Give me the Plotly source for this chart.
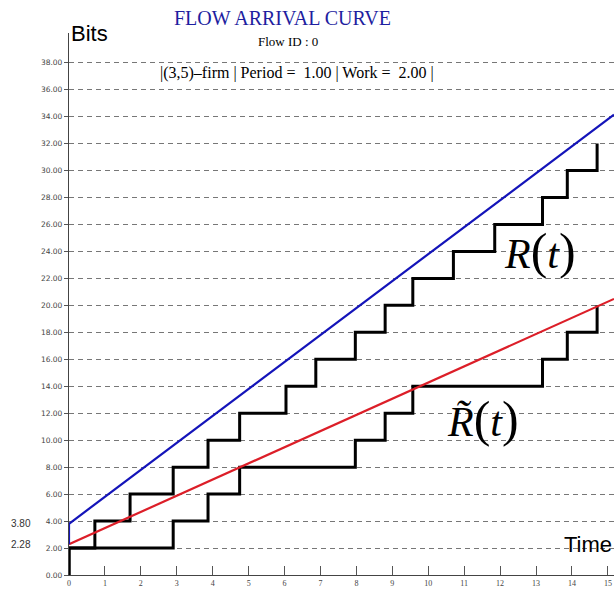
import plotly.graph_objects as go

# ---- data ----
release_times = [0, 0.72, 1.70, 2.90, 3.87, 4.75, 6.04, 6.87, 7.97, 8.80, 9.57, 10.70, 11.85, 13.18, 13.87, 14.70]
upper_bits = [2, 4, 6, 8, 10, 12, 14, 16, 18, 20, 22, 24, 26, 28, 30, 32]

lower_times = [0, 2.90, 3.87, 4.75, 7.97, 8.80, 9.57, 13.18, 13.87, 14.70]
lower_bits = [2, 4, 6, 8, 10, 12, 14, 16, 18, 20]

blue_t = [0, 0, 15.17]
blue_bits = [2.28, 3.80, 34.14]
red_t = [0, 15.17]
red_bits = [2.28, 20.48]

y_ticks = [0, 2, 4, 6, 8, 10, 12, 14, 16, 18, 20, 22, 24, 26, 28, 30, 32, 34, 36, 38]
x_ticks = list(range(0, 16))
extra_labels = [3.80, 2.28]

fig = go.Figure()

# step curves (start from 0 at t=0)
fig.add_trace(go.Scatter(x=[0] + release_times, y=[0] + upper_bits, mode="lines",
                         line=dict(color="black", width=3, shape="hv"), hoverinfo="skip"))
fig.add_trace(go.Scatter(x=[0] + lower_times, y=[0] + lower_bits, mode="lines",
                         line=dict(color="black", width=3, shape="hv"), hoverinfo="skip"))
fig.add_trace(go.Scatter(x=red_t, y=red_bits, mode="lines",
                         line=dict(color="rgb(220,30,40)", width=2.2), hoverinfo="skip"))
fig.add_trace(go.Scatter(x=blue_t, y=blue_bits, mode="lines",
                         line=dict(color="rgb(20,20,185)", width=2.2), hoverinfo="skip"))

fig.update_layout(
    width=614, height=590,
    margin=dict(l=69, r=0, t=33, b=15),
    paper_bgcolor="white", plot_bgcolor="white",
    showlegend=False,
    xaxis=dict(range=[0, 15.17], tickvals=x_ticks, ticktext=[str(v) for v in x_ticks],
               showgrid=False, zeroline=False, showline=True, linecolor="#444", linewidth=1.2,
               ticks="inside", ticklen=9, tickcolor="#555", tickwidth=1,
               tickfont=dict(family="Liberation Serif", size=8, color="#444"), fixedrange=True),
    yaxis=dict(range=[0, 40.2], tickvals=y_ticks, tickformat=".2f",
               showgrid=True, gridcolor="#777", gridwidth=1, griddash="5px,4px",
               zeroline=False, showline=True, linecolor="#444", linewidth=1.2,
               ticks="outside", ticklen=4, tickcolor="#555",
               tickfont=dict(family="DejaVu Sans", size=7.5, color="#444"), fixedrange=True),
)

def px_x(p):
    return (p - 69) / 545.0

def px_y(p):
    return (590 - 15 - p) / 542.0

big = "<span style='font-size:50px'>"
annotations = [
    dict(text="FLOW ARRIVAL CURVE", x=px_x(282), y=px_y(18), xref="paper", yref="paper",
         showarrow=False, font=dict(family="Liberation Serif", size=20, color="rgb(30,30,160)")),
    dict(text="Flow ID : 0", x=px_x(288), y=px_y(41), xref="paper", yref="paper",
         showarrow=False, font=dict(family="Liberation Serif", size=13, color="black")),
    dict(text="|(3,5)–firm | Period =  1.00 | Work =  2.00 |", x=px_x(297), y=px_y(73),
         xref="paper", yref="paper", showarrow=False,
         font=dict(family="Liberation Serif", size=16, color="black")),
    dict(text="Bits", x=px_x(69), y=px_y(33), xref="paper", yref="paper", xanchor="left",
         showarrow=False, font=dict(family="Liberation Sans", size=22, color="black")),
    dict(text="Time", x=1.0, y=px_y(544), xref="paper", yref="paper", xanchor="right",
         showarrow=False, font=dict(family="Liberation Sans", size=22, color="black")),
    dict(text="<i>R</i>" + big + "(</span><i>t</i>" + big + ")</span>",
         x=px_x(502), y=px_y(251), xref="paper", yref="paper", xanchor="left", showarrow=False,
         font=dict(family="Liberation Serif", size=42, color="black")),
    dict(text="<i>R\u0303</i>" + big + "(</span><i>t</i>" + big + ")</span>",
         x=px_x(445), y=px_y(419), xref="paper", yref="paper", xanchor="left", showarrow=False,
         font=dict(family="Liberation Serif", size=42, color="black")),
]
for v in extra_labels:
    annotations.append(dict(text=f"{v:.2f}", x=px_x(33), y=v, xref="paper", yref="y",
                            xanchor="right", showarrow=False,
                            font=dict(family="Liberation Sans", size=10, color="#333")))
for a in annotations:
    a["yanchor"] = "middle"
fig.update_layout(annotations=annotations)

fig.write_html("out.html", config={"displayModeBar": False},
               post_script="document.body.style.margin='0';")
